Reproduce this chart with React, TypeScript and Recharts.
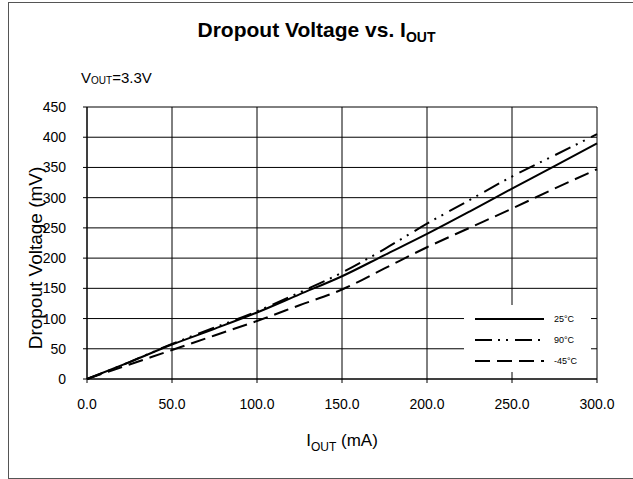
import React from 'react';
import { LineChart, Line, XAxis, YAxis, CartesianGrid, Label } from 'recharts';

// values (mA -> mV)
const currents = [0, 25, 50, 75, 100, 125, 150, 175, 200, 225, 250, 275, 300];
const temp25 = [0, 28, 57, 83, 110, 140, 170, 205, 240, 277, 315, 352, 390];
const temp90 = [0, 28, 58, 85, 112, 143, 176, 215, 257, 296, 335, 370, 405];
const tempM45 = [0, 24, 48, 72, 96, 122, 148, 183, 218, 250, 282, 315, 347];
const xTicks = [0, 50, 100, 150, 200, 250, 300];
const yTicks = [0, 50, 100, 150, 200, 250, 300, 350, 400, 450];

const seriesDefs = [
  { key: 't25', name: '25°C', dash: undefined as string | undefined },
  { key: 't90', name: '90°C', dash: '17 6 2 6 2 7' },
  { key: 'tm45', name: '-45°C', dash: '15 7' },
];

const data = currents.map((c, i) => ({
  iout: c,
  t25: temp25[i],
  t90: temp90[i],
  tm45: tempM45[i],
}));

const FONT = '"Liberation Sans", Arial, sans-serif';

// drawn as an overlay so it doesn't eat into the plot area
const LegendBox = () => (
  <div
    style={{
      position: 'absolute',
      left: 464,
      top: 305,
      background: '#fff',
      width: 127,
      height: 67,
      paddingTop: 3,
      boxSizing: 'border-box',
      fontFamily: FONT,
      fontSize: 9,
    }}
  >
    {seriesDefs.map((s) => (
      <div key={s.key} style={{ display: 'flex', alignItems: 'center', height: 21 }}>
        <svg width={79} height={6} style={{ marginLeft: 11 }}>
          <line x1={0} y1={3} x2={69} y2={3} stroke="#000" strokeWidth={2} strokeDasharray={s.dash} />
        </svg>
        <span>{s.name}</span>
      </div>
    ))}
  </div>
);

const XLabel = (props: any) => {
  const vb = props.viewBox || {};
  const cx = vb.x + vb.width / 2;
  return (
    <text x={cx} y={446} textAnchor="middle" fontFamily={FONT} fontSize={17} fill="#000">
      I<tspan fontSize={12} dy={5}>OUT</tspan>
      <tspan dy={-5}> (mA)</tspan>
    </text>
  );
};

const YLabel = () => (
  <text
    x={0}
    y={0}
    transform="translate(42, 258) rotate(-90)"
    textAnchor="middle"
    fontFamily={FONT}
    fontSize={19}
    fill="#000"
  >
    Dropout Voltage (mV)
  </text>
);

export default function App() {
  return (
    <div style={{ position: 'absolute', left: 0, top: 0, width: 633, height: 479, overflow: 'hidden', background: '#fff' }}>
      <div
        style={{
          position: 'absolute',
          left: 8,
          top: 2,
          width: 700,
          height: 475,
          border: '1px solid #555',
        }}
      />
      <div
        style={{
          position: 'absolute',
          left: 0,
          top: 18,
          width: 633,
          textAlign: 'center',
          fontFamily: FONT,
          fontWeight: 'bold',
          fontSize: 21,
        }}
      >
        Dropout Voltage vs. I<sub style={{ fontSize: 14, verticalAlign: -5 }}>OUT</sub>
      </div>
      <div
        style={{
          position: 'absolute',
          left: 81,
          top: 69,
          fontFamily: FONT,
          fontSize: 15,
        }}
      >
        V<sub style={{ fontSize: 10, verticalAlign: -1 }}>OUT</sub>=3.3V
      </div>
      <LineChart
        width={633}
        height={479}
        data={data}
        margin={{ top: 107, right: 36, left: 47, bottom: 40 }}
        style={{ position: 'absolute', left: 0, top: 0 }}
      >
        <CartesianGrid stroke="#000" strokeWidth={1} />
        <XAxis
          dataKey="iout"
          type="number"
          domain={[0, 300]}
          ticks={xTicks}
          tickFormatter={(v: number) => v.toFixed(1)}
          stroke="#000"
          tickSize={4}
          tickMargin={16}
          height={60}
          tick={{ fill: '#000', fontFamily: FONT, fontSize: 14 }}
        >
          <Label content={<XLabel />} />
        </XAxis>
        <YAxis
          type="number"
          domain={[0, 450]}
          ticks={yTicks}
          stroke="#000"
          tickSize={4}
          tickMargin={17}
          width={40}
          tick={{ fill: '#000', fontFamily: FONT, fontSize: 14 }}
        >
          <Label content={<YLabel />} />
        </YAxis>
        {seriesDefs.map((s) => (
          <Line
            key={s.key}
            type="monotone"
            dataKey={s.key}
            name={s.name}
            stroke="#000"
            strokeWidth={2}
            strokeDasharray={s.dash}
            dot={false}
            isAnimationActive={false}
          />
        ))}
      </LineChart>
      <LegendBox />
    </div>
  );
}
